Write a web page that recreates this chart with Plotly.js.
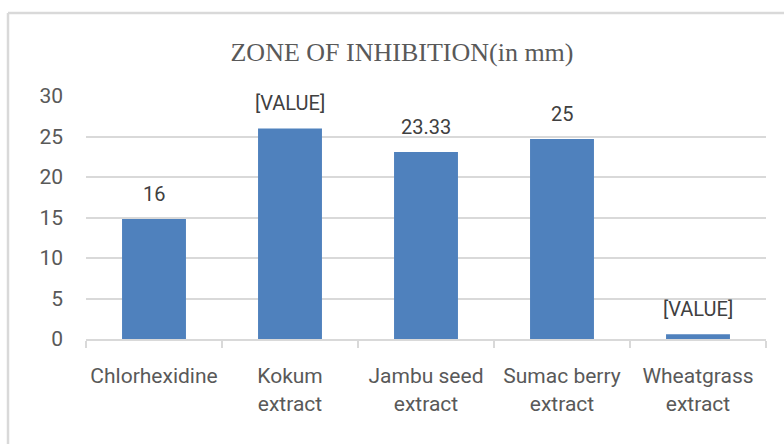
<!DOCTYPE html>
<html>
<head>
<meta charset="utf-8">
<script src="https://cdn.plot.ly/plotly-3.0.1.min.js"></script>
<style>
  html, body { margin: 0; padding: 0; background: #ffffff; }
  #chart { width: 784px; height: 444px; }
</style>
</head>
<body>
<div id="chart"></div>
<script>
// ---- data ----
const categories = [
  "Chlorhexidine",
  "Kokum<br>extract",
  "Jambu seed<br>extract",
  "Sumac berry<br>extract",
  "Wheatgrass<br>extract"
];
const zoneValues = [14.8, 26.0, 23.1, 24.7, 0.6];
const dataLabels = ["16", "[VALUE]", "23.33", "25", "[VALUE]"];
const yTickValues = [0, 5, 10, 15, 20, 25, 30];

// ---- styles ----
const barColor = "#4F81BD";
const gridColor = "#d9d9d9";
const textColor = "#595959";
const labelColor = "#404040";
const sansFont = "Roboto, 'Open Sans', sans-serif";

const trace = {
  type: "bar",
  x: categories,
  y: zoneValues,
  marker: { color: barColor },
  hoverinfo: "skip"
};

const annotations = categories.map((c, i) => ({
  x: c,
  y: zoneValues[i],
  xref: "x",
  yref: "y",
  text: dataLabels[i],
  showarrow: false,
  yanchor: "middle",
  yshift: 25,
  font: { family: sansFont, size: 20, color: labelColor }
}));

const W = 784, H = 444;
const mL = 86, mR = 18, mT = 96, mB = 105;
const pw = W - mL - mR, ph = H - mT - mB;
const px = v => (v - mL) / pw;
const py = v => (H - mB - v) / ph;

const layout = {
  width: W,
  height: H,
  margin: { l: mL, r: mR, t: mT, b: mB, pad: 0 },
  paper_bgcolor: "#ffffff",
  plot_bgcolor: "#ffffff",
  showlegend: false,
  bargap: 0.53,
  title: {
    text: "ZONE OF INHIBITION(in mm)",
    font: { family: "'Liberation Serif', 'Times New Roman', serif", size: 26, color: textColor },
    xref: "container",
    yref: "container",
    x: 402 / W,
    xanchor: "center",
    y: 1 - 52 / H,
    yanchor: "middle"
  },
  xaxis: {
    type: "category",
    showgrid: false,
    showline: true,
    linecolor: gridColor,
    linewidth: 2,
    ticks: "outside",
    tickson: "boundaries",
    ticklen: 7,
    tickwidth: 2,
    tickcolor: gridColor,
    tickangle: 0,
    automargin: false,
    ticklabelstandoff: 17,
    tickfont: { family: sansFont, size: 21, color: textColor },
    fixedrange: true
  },
  yaxis: {
    range: [0, 30],
    tickvals: yTickValues,
    ticktext: yTickValues.map(String),
    showgrid: true,
    gridcolor: gridColor,
    gridwidth: 2,
    zeroline: false,
    showline: false,
    ticks: "",
    ticklabelstandoff: 22,
    tickfont: { family: sansFont, size: 21, color: textColor },
    fixedrange: true
  },
  annotations: annotations,
  shapes: [
    { type: "line", xref: "paper", yref: "paper", x0: px(8), x1: px(790), y0: py(13), y1: py(13),
      line: { color: gridColor, width: 2.5 } },
    { type: "line", xref: "paper", yref: "paper", x0: px(8), x1: px(8), y0: py(13), y1: py(450),
      line: { color: gridColor, width: 2.5 } }
  ]
};

Plotly.newPlot("chart", [trace], layout, { displayModeBar: false, staticPlot: true });
</script>
</body>
</html>
